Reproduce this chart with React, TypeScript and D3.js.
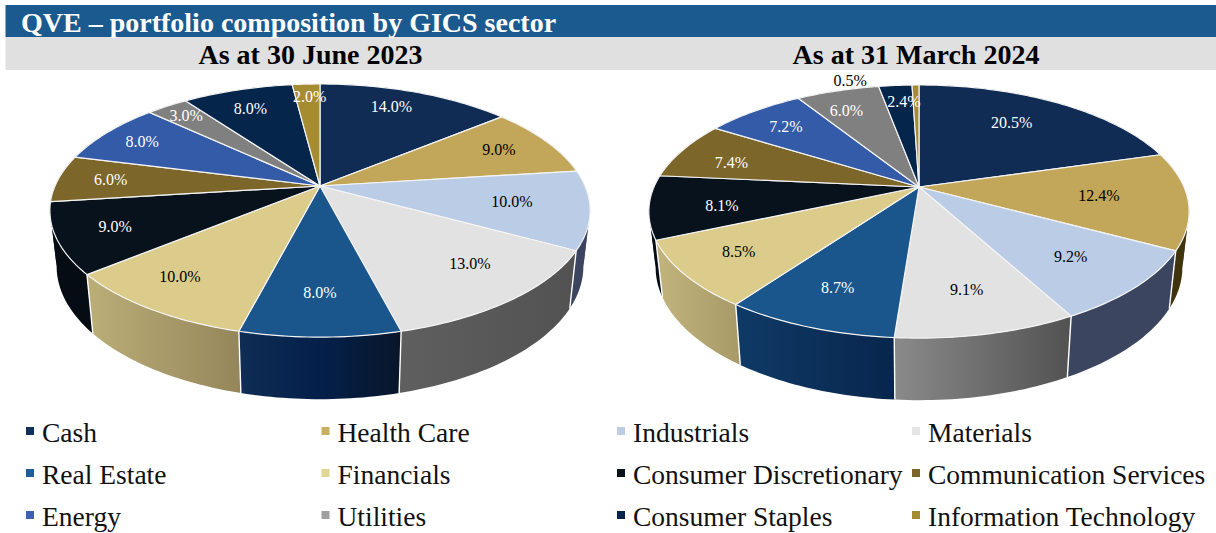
import React from "react";
import * as d3 from "d3";

const sectors = ["Cash","Health Care","Industrials","Materials","Real Estate","Financials","Consumer Discretionary","Communication Services","Energy","Utilities","Consumer Staples","Information Technology"];
const june2023 = [14.0,9.0,10.0,13.0,8.0,10.0,9.0,6.0,8.0,3.0,8.0,2.0];
const march2024 = [20.5,12.4,9.2,9.1,8.7,8.5,8.1,7.4,7.2,6.0,2.4,0.5];
const faceColors = ["#102c54","#c2a75a","#bbcce6","#e2e2e2","#1a568c","#dbcc8c","#07121c","#7c662a","#335ba8","#808080","#05254a","#a68c31"];
const legendColors = ["#12305a","#c9ae5f","#bdcde6","#e6e6e6","#1d5f98","#e2d594","#07121c","#7c662a","#3a62b0","#a0a0a0","#05254a","#a68c31"];
const labelColors = ["#fff","#000","#000","#000","#fff","#000","#fff","#fff","#fff","#fff","#fff","#fff"];
const labelColorsB = ["#fff","#000","#000","#000","#fff","#000","#fff","#fff","#fff","#fff","#fff","#000"];
const wallsLeft = [["#102c54","#102c54"],["#5c4c20","#40340f"],["#3b4560","#3b4560"],["#5f5f5f","#525252"],["#0f2d55","#04204a","#08162a"],["#bcae78","#94865a"],["#050c14","#050c14"],["#050c14","#050c14"],["#000","#000"],["#000","#000"],["#000","#000"],["#000","#000"]];
const wallsRight = [["#102c54","#102c54"],["#40340f","#40340f"],["#3b4560","#3b4560"],["#8a8a8a","#525252"],["#0f3a66","#08264d"],["#c2b47c","#a89a68"],["#050c14","#050c14"],["#050c14","#050c14"],["#000","#000"],["#000","#000"],["#000","#000"],["#000","#000"]];

const W = 1216, H = 533;
const K = 0.194, S = 121.8, R = 265, BASE_DROP = 54.5, SHRINK_X = 0.975, SHRINK_Y = 1.05, LABEL_R = 0.78, SEAM_MIN_V = 0.3;
const FOLDS = [Math.acos(-K), 2 * Math.PI - Math.acos(-K)];
const serif = "'Liberation Serif', serif";

type Pt = [number, number];
function projector(cx: number, cy: number, sx: number, sy: number) {
  return (theta: number, r: number): Pt => {
    const u = r * Math.sin(theta), v = -r * Math.cos(theta), d = 1 - K * v;
    return [cx + (R * sx * u) / d, cy + (S * sy * v) / d];
  };
}
const line = d3.line();
const arcAngles = (a: number, b: number) => {
  const n = Math.max(2, Math.ceil((b - a) / 0.02));
  return d3.range(n + 1).map((i) => a + ((b - a) * i) / n);
};

function Pie3D({ id, values, cx, cy, walls, nudges, inks }: { id: string; values: number[]; cx: number; cy: number; walls: string[][]; nudges: Pt[]; inks: string[] }) {
  const arcs = d3.pie<number>().sort(null)(values);
  const top = projector(cx, cy, 1, 1);
  const bot = projector(cx, cy + BASE_DROP, SHRINK_X, SHRINK_Y);
  const order = arcs.map((_, i) => i).sort((a, b) => {
    const m = (x: number) => -Math.cos((arcs[x].startAngle + arcs[x].endAngle) / 2);
    return m(a) - m(b);
  });
  const edges = arcs.map((a) => a.startAngle).concat([Math.PI * 2]);
  return (
    <g>
      <defs>
        {arcs.map((a, i) => (
          <linearGradient key={i} id={`${id}-w${i}`} x1="0" x2="1" y1="0" y2="0">
            {walls[i].map((c, j) => (
              <stop key={j} offset={j / (walls[i].length - 1)} stopColor={c} />
            ))}
          </linearGradient>
        ))}
      </defs>
      {order.map((i) => {
        const s = arcs[i];
        // split at the silhouette, where the wall folds over, so the strip stays a simple polygon
        const cuts = [s.startAngle, ...FOLDS.filter((f) => f > s.startAngle && f < s.endAngle), s.endAngle];
        return d3.pairs(cuts).map(([c0, c1], j) => {
          const a = arcAngles(c0, c1);
          const pts = [...a.map((t) => top(t, 1)), ...a.slice().reverse().map((t) => bot(t, 1))];
          return <path key={`${i}-${j}`} d={line(pts) + "Z"} fill={`url(#${id}-w${i})`} />;
        });
      })}
      {edges.map((t, i) => {
        if (-Math.cos(t) < SEAM_MIN_V) return null;
        return <path key={i} d={line([top(t, 1), bot(t, 1)]) as string} stroke="#fff" strokeWidth={1.4} fill="none" />;
      })}
      {arcs.map((s, i) => {
        const pts: Pt[] = [[cx, cy], ...arcAngles(s.startAngle, s.endAngle).map((t) => top(t, 1))];
        return <path key={i} d={line(pts) + "Z"} fill={faceColors[i]} stroke="#f4f4f4" strokeWidth={1.2} strokeLinejoin="round" />;
      })}
      {arcs.map((s, i) => {
        const p = top((s.startAngle + s.endAngle) / 2, LABEL_R);
        return (
          <text key={i} x={p[0] + nudges[i][0]} y={p[1] + nudges[i][1] + 5} textAnchor="middle" fontSize={16} fontFamily={serif} fill={inks[i]}>
            {values[i].toFixed(1)}%
          </text>
        );
      })}
    </g>
  );
}

const nudgeLeft: Pt[] = [[-6,-3],[0,0],[-17,-2],[6,-7],[0,-5],[-13,-1],[-3,1],[-5,0],[-9,-1],[-11,-6],[-3,0],[1,-7]];
const nudgeRight: Pt[] = [[-18,4],[-29,-1],[-12,-5],[-3,-6],[1,-3],[-3,-1],[12,3],[-1,5],[-1,1],[-7,2],[4,-3],[-66,-23]];

const legendX = d3.scaleOrdinal<number, number>().domain([0, 1, 2, 3]).range([26, 321.5, 617, 912]);
const legendY = d3.scalePoint<number>().domain([0, 1, 2]).range([433, 517]);

export default function App() {
  return (
    <svg width={W} height={H} style={{ position: "absolute", left: 0, top: 0, background: "#fff" }}>
      <rect x={5.5} y={5} width={W} height={32} fill="#1b5a8f" />
      <rect x={5.5} y={37} width={W} height={33} fill="#e0e0e0" />
      <text x={21} y={32} fontFamily={serif} fontWeight="bold" fontSize={28} fill="#fff">QVE – portfolio composition by GICS sector</text>
      <text x={310.5} y={64} textAnchor="middle" fontFamily={serif} fontWeight="bold" fontSize={28} fill="#000">As at 30 June 2023</text>
      <text x={916} y={64} textAnchor="middle" fontFamily={serif} fontWeight="bold" fontSize={28} fill="#000">As at 31 March 2024</text>
      <Pie3D id="a" values={june2023} cx={320} cy={186} walls={wallsLeft} nudges={nudgeLeft} inks={labelColors} />
      <Pie3D id="b" values={march2024} cx={919} cy={187} walls={wallsRight} nudges={nudgeRight} inks={labelColorsB} />
      {sectors.map((s, i) => {
        const col = i % 4, row = Math.floor(i / 4);
        const x = legendX(col), y = legendY(row) as number;
        return (
          <g key={s}>
            <rect x={x} y={y - 6} width={8} height={8} fill={legendColors[i]} />
            <text x={x + 16} y={y + 9} fontFamily={serif} fontSize={27.5} fill="#111">{s}</text>
          </g>
        );
      })}
    </svg>
  );
}
